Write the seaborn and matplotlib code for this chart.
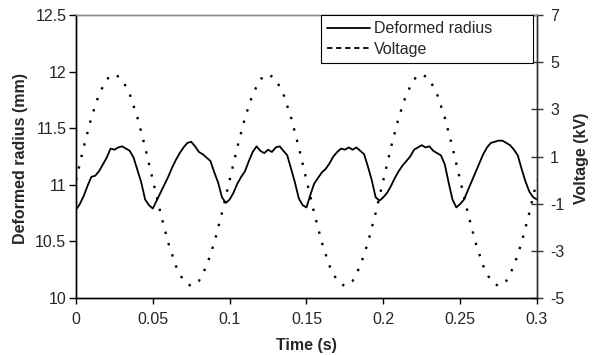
import numpy as np
import pandas as pd
import matplotlib
matplotlib.use("Agg")
import matplotlib.pyplot as plt
from matplotlib.lines import Line2D
import seaborn as sns

# ---- data ----
radius_time = [round(i * 0.0025, 4) for i in range(121)]
radius_mm = [
    10.78, 10.83, 10.90, 10.99, 11.07, 11.08, 11.12, 11.18, 11.24, 11.32,
    11.31, 11.33, 11.34, 11.32, 11.30, 11.24, 11.13, 11.02, 10.87, 10.82,
    10.79, 10.86, 10.93, 11.00, 11.07, 11.15, 11.22, 11.28, 11.33, 11.37,
    11.38, 11.34, 11.29, 11.27, 11.24, 11.21, 11.11, 11.02, 10.89, 10.84,
    10.87, 10.93, 11.01, 11.07, 11.12, 11.21, 11.29, 11.34, 11.30, 11.28,
    11.31, 11.29, 11.33, 11.34, 11.30, 11.26, 11.14, 11.02, 10.88, 10.82,
    10.80, 10.91, 11.01, 11.06, 11.11, 11.14, 11.19, 11.25, 11.29, 11.32,
    11.31, 11.33, 11.31, 11.33, 11.30, 11.27, 11.16, 11.04, 10.89, 10.86,
    10.89, 10.93, 10.99, 11.06, 11.12, 11.17, 11.21, 11.25, 11.31, 11.33,
    11.35, 11.33, 11.34, 11.30, 11.28, 11.26, 11.18, 11.02, 10.87, 10.80,
    10.83, 10.87, 10.95, 11.03, 11.11, 11.19, 11.27, 11.33, 11.37, 11.38,
    11.39, 11.39, 11.37, 11.35, 11.31, 11.26, 11.14, 11.03, 10.94, 10.89,
    10.87,
]

voltage_time = [round(i * 0.005, 3) for i in range(61)]
voltage_kv = [
    0.00, 1.39, 2.65, 3.64, 4.28, 4.50, 4.28, 3.64, 2.65, 1.39,
    0.00, -1.39, -2.65, -3.64, -4.28, -4.50, -4.28, -3.64, -2.65, -1.39,
    0.00, 1.39, 2.65, 3.64, 4.28, 4.50, 4.28, 3.64, 2.65, 1.39,
    0.00, -1.39, -2.65, -3.64, -4.28, -4.50, -4.28, -3.64, -2.65, -1.39,
    0.00, 1.39, 2.65, 3.64, 4.28, 4.50, 4.28, 3.64, 2.65, 1.39,
    0.00, -1.39, -2.65, -3.64, -4.28, -4.50, -4.28, -3.64, -2.65, -1.39,
    0.00,
]

x_ticks = [0, 0.05, 0.1, 0.15, 0.2, 0.25, 0.3]
x_labels = ["0", "0.05", "0.1", "0.15", "0.2", "0.25", "0.3"]
left_ticks = [10, 10.5, 11, 11.5, 12, 12.5]
left_labels = ["10", "10.5", "11", "11.5", "12", "12.5"]
right_ticks = [-5, -3, -1, 1, 3, 5, 7]
right_labels = ["-5", "-3", "-1", "1", "3", "5", "7"]

sns.set_theme(style="white")
plt.rcParams["font.family"] = ["Liberation Sans", "DejaVu Sans"]

FS = 11.5

df_r = pd.DataFrame({"t": radius_time, "r": radius_mm})
df_v = pd.DataFrame({"t": voltage_time, "v": voltage_kv})

fig = plt.figure(figsize=(5.95, 3.55), dpi=100)
ax = fig.add_axes([0.1277, 0.1606, 0.7748, 0.7971])
ax2 = ax.twinx()

sns.lineplot(data=df_r, x="t", y="r", ax=ax, color="black", linewidth=1.3)
sns.lineplot(data=df_v, x="t", y="v", ax=ax2, color="black", linewidth=1.7,
             linestyle=(0, (1.0, 4.0)))

ax.set_xlim(0, 0.3)
ax.set_ylim(10, 12.5)
ax2.set_ylim(-5, 7)

ax.set_xticks(x_ticks)
ax.set_xticklabels(x_labels)
ax.set_yticks(left_ticks)
ax.set_yticklabels(left_labels)
ax2.set_yticks(right_ticks)
ax2.set_yticklabels(right_labels)

ax.tick_params(axis="x", direction="out", length=4, width=1, color="black",
               labelsize=FS, pad=6, bottom=True)
ax.tick_params(axis="y", direction="out", length=5, width=1, color="black",
               labelsize=FS, pad=2, left=True)
ax2.tick_params(axis="y", direction="inout", length=9, width=1, color="#333333",
                labelsize=FS, pad=5, right=True)

for a in (ax, ax2):
    for s in a.spines.values():
        s.set_linewidth(1.0)
    a.spines["top"].set_color("#888888")
    a.spines["left"].set_color("black")
    a.spines["bottom"].set_color("black")
    a.spines["right"].set_color("#333333")

ax.set_xlabel("Time (s)", fontsize=FS, fontweight="bold", labelpad=8)
ax.set_ylabel("Deformed radius (mm)", fontsize=FS, fontweight="bold")
ax.yaxis.set_label_coords(-0.104, 0.493)
ax2.set_ylabel("Voltage (kV)", fontsize=FS, fontweight="bold")
ax2.yaxis.set_label_coords(1.08, 0.495)

handles = [
    Line2D([0], [0], color="black", linewidth=1.3),
    Line2D([0], [0], color="black", linewidth=1.3, linestyle=(0, (3, 2))),
]
leg = ax2.legend(handles, ["Deformed radius", "Voltage"], loc="upper right",
                 bbox_to_anchor=(0.531, 0.0, 0.46, 1.0), mode="expand",
                 fontsize=FS, frameon=True,
                 fancybox=False, framealpha=1, edgecolor="black",
                 handlelength=2.7, borderpad=0.4, labelspacing=0.35,
                 handletextpad=0.25, borderaxespad=0)
leg.get_frame().set_linewidth(0.8)

fig.savefig("out.png", dpi=100)
